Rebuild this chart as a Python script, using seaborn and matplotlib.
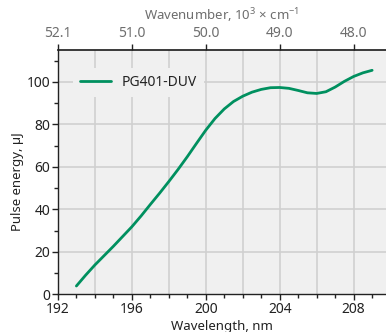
import matplotlib
matplotlib.use("Agg")
import matplotlib.pyplot as plt
import seaborn as sns
import pandas as pd
from matplotlib.ticker import MultipleLocator

# Measured pulse energy of the PG401-DUV versus wavelength
wavelength_nm = [193.0, 193.5, 194.0, 194.5, 195.0, 195.5, 196.0, 196.5, 197.0, 197.5,
                 198.0, 198.5, 199.0, 199.5, 200.0, 200.5, 201.0, 201.5, 202.0, 202.5,
                 203.0, 203.5, 204.0, 204.5, 205.0, 205.5, 206.0, 206.5, 207.0, 207.5,
                 208.0, 208.5, 209.0]
energy_uj = [3.9, 9.0, 13.8, 18.2, 22.6, 27.2, 31.8, 36.9, 42.3, 47.6,
             53.1, 58.8, 64.8, 71.1, 77.3, 82.8, 87.3, 90.8, 93.3, 95.2,
             96.5, 97.3, 97.4, 97.0, 96.0, 94.9, 94.6, 95.4, 97.6, 100.3,
             102.6, 104.3, 105.5]
series_name = "PG401-DUV"

bottom_ticks = [192, 196, 200, 204, 208]
top_tick_labels = ["52.1", "51.0", "50.0", "49.0", "48.0"]

df = pd.DataFrame({"Wavelength": wavelength_nm, "Energy": energy_uj, "Laser": series_name})

sns.set_theme(style="ticks")
plt.rcParams["font.family"] = ["Noto Sans", "DejaVu Sans"]
plt.rcParams["mathtext.default"] = "regular"

fig = plt.figure(figsize=(3.86, 3.32), dpi=100)
ax = fig.add_axes([0.150, 0.1136, 0.85, 0.7354])
ax.set_facecolor("#f0f0f0")

sns.lineplot(data=df, x="Wavelength", y="Energy", hue="Laser",
             palette=["#00905f"], linewidth=2.0, ax=ax)

ax.set_xlim(192, 209.75)
ax.set_ylim(0, 115)

ax.xaxis.set_major_locator(MultipleLocator(4))
ax.xaxis.set_minor_locator(MultipleLocator(1))
ax.yaxis.set_major_locator(MultipleLocator(20))
ax.yaxis.set_minor_locator(MultipleLocator(10))

# grid every 2 nm and every 20 uJ
for gx in range(194, 210, 2):
    ax.axvline(gx, color="#d0d0d0", linewidth=1.2, zorder=0.5)
for gy in range(20, 115, 20):
    ax.axhline(gy, color="#d0d0d0", linewidth=1.2, zorder=0.5)

ax.tick_params(axis="both", which="major", direction="out", length=4, width=1,
               color="#222222", labelsize=10, labelcolor="#222222", pad=1.5)
ax.tick_params(axis="both", which="minor", direction="out", length=3, width=1,
               color="#222222")

for side in ["top", "right"]:
    ax.spines[side].set_visible(False)
for side in ["left", "bottom"]:
    ax.spines[side].set_color("#222222")
    ax.spines[side].set_linewidth(1.0)

ax.set_xlabel("Wavelength, nm", fontsize=9.5, color="#222222", labelpad=2)
ax.set_ylabel("Pulse energy, µJ", fontsize=9.5, color="#222222")
ax.yaxis.set_label_coords(-0.103, 0.46)

# wavenumber axis along the top
top = ax.twiny()
top.set_xlim(ax.get_xlim())
top.set_xticks(bottom_ticks)
top.set_xticklabels(top_tick_labels)
top.tick_params(axis="x", direction="out", length=4, width=1, color="#222222",
                labelsize=10, labelcolor="#6e6e6e", pad=2.5)
for side in ["left", "right", "bottom"]:
    top.spines[side].set_visible(False)
top.spines["top"].set_color("#222222")
top.set_xlabel("Wavenumber, 10$^3$ × cm$^{-1}$", fontsize=9.5, color="#6e6e6e", labelpad=4)

leg = ax.legend(loc="upper left", bbox_to_anchor=(0.025, 0.955), frameon=True,
                fontsize=10, handlelength=2.2, handletextpad=0.8,
                borderpad=0.5, title=None)
leg.get_frame().set_facecolor("#f0f0f0")
leg.get_frame().set_edgecolor("none")
leg.get_frame().set_alpha(1)
for t in leg.get_texts():
    t.set_color("#222222")

fig.savefig("out.png", dpi=100)
